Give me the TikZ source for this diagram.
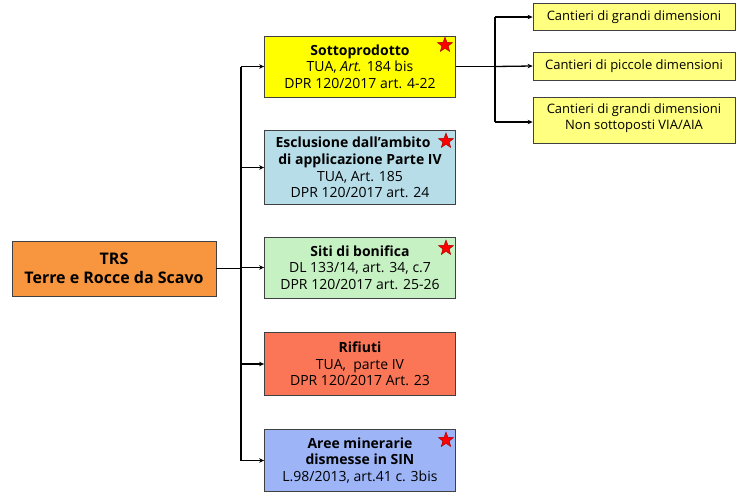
\documentclass[tikz,border=0pt]{standalone}
\usepackage{fontspec}
\setmainfont{Open Sans}
\usetikzlibrary{shapes.geometric,arrows.meta}
\definecolor{cTRS}{HTML}{F8963F}
\definecolor{cYel}{HTML}{FFFF00}
\definecolor{cBlu}{HTML}{B7DDE8}
\definecolor{cGrn}{HTML}{C6F1C2}
\definecolor{cRed}{HTML}{FA7656}
\definecolor{cPur}{HTML}{9DB4F6}
\definecolor{cPal}{HTML}{FFFF80}
\definecolor{cBrd}{HTML}{404040}
\tikzset{
  box/.style={draw=cBrd, line width=0.8pt, align=center, inner sep=0pt, font=\fontsize{14}{16.6}\selectfont, text=black},
  midbox/.style={box, minimum width=191pt},
  rbox/.style={box, fill=cPal, minimum width=202pt, font=\fontsize{13}{16}\selectfont},
  conn/.style={line width=1.3pt, -{Stealth[length=5pt,width=4.5pt]}},
  plain/.style={line width=1.3pt},
  redstar/.style={star, star points=5, star point ratio=2.4, fill=red, draw=red!60!black, line width=0.4pt, minimum size=16pt, inner sep=0pt},
}
\begin{document}
\begin{tikzpicture}[x=1pt,y=-1pt]
\useasboundingbox (0,0) rectangle (750,498);
\fill[white] (0,0) rectangle (750,498);
% left box
\node[box, fill=cTRS, minimum width=204pt, minimum height=55pt, font=\fontsize{16}{19}\selectfont\bfseries] (trs) at (114,268.5) {TRS\\Terre e Rocce da Scavo};
% middle boxes
\node[midbox, fill=cYel, minimum height=61pt] (sot) at (360,66.5) {\textbf{Sottoprodotto}\\TUA, \textit{Art.} 184 bis\\DPR 120/2017 art. 4-22};
\node[midbox, fill=cBlu, minimum height=74pt] (esc) at (360,167.5) {\textbf{Esclusione dall'ambito}\hspace*{14pt}\\\textbf{di applicazione Parte IV}\hspace*{6pt}\\TUA, Art. 185\\DPR 120/2017 art. 24};
\node[midbox, fill=cGrn, minimum height=61pt] (sit) at (360,267.5) {\textbf{Siti di bonifica}\\DL 133/14, art. 34, c.7\\DPR 120/2017 art. 25-26};
\node[midbox, fill=cRed, minimum height=63pt] (rif) at (360,364) {\textbf{Rifiuti}\\TUA,\ \ parte IV\\DPR 120/2017 Art. 23};
\node[midbox, fill=cPur, minimum height=62pt] (are) at (360,460.5) {\textbf{Aree minerarie}\\\textbf{dismesse in SIN}\\L.98/2013, art.41 c. 3bis};
% stars
\node[redstar] (s1) at (445,45) {};
\node[redstar] (s2) at (446,141) {};
\node[redstar] (s3) at (446,248) {};
\node[redstar] (s4) at (446,440) {};
% right boxes
\node[rbox, minimum height=27pt] (r1) at (634,17) {Cantieri di grandi dimensioni};
\node[rbox, minimum height=28pt] (r2) at (634,66) {Cantieri di piccole dimensioni};
\node[rbox, minimum height=46pt, text depth=0pt] (r3) at (634,120) {\raisebox{7pt}{\shortstack{Cantieri di grandi dimensioni\\Non sottoposti VIA/AIA}}};
% trunk coordinates
\coordinate (j1) at (241,268.5);
\coordinate (t1) at (241,66.5);
\coordinate (t5) at (241,460.5);
\coordinate (j2) at (495,66.5);
\coordinate (u1) at (495,17);
\coordinate (u3) at (495,122);
% connectors
\draw[plain] (trs.east) -- (j1);
\draw[plain] (t1) -- (t5);
\draw[conn] (t1) -- (sot.west);
\draw[conn] (241,167.5) -- (esc.west);
\draw[conn] (241,267.5) -- (sit.west);
\draw[conn] (241,364) -- (rif.west);
\draw[conn] (t5) -- (are.west);
\draw[plain] (sot.east) -- (j2);
\draw[plain] (u1) -- (u3);
\draw[conn] (u1) -- (r1.west);
\draw[conn] (j2) -- (r2.west);
\draw[conn] (u3) -- (r3.west |- u3);
\end{tikzpicture}
\end{document}
